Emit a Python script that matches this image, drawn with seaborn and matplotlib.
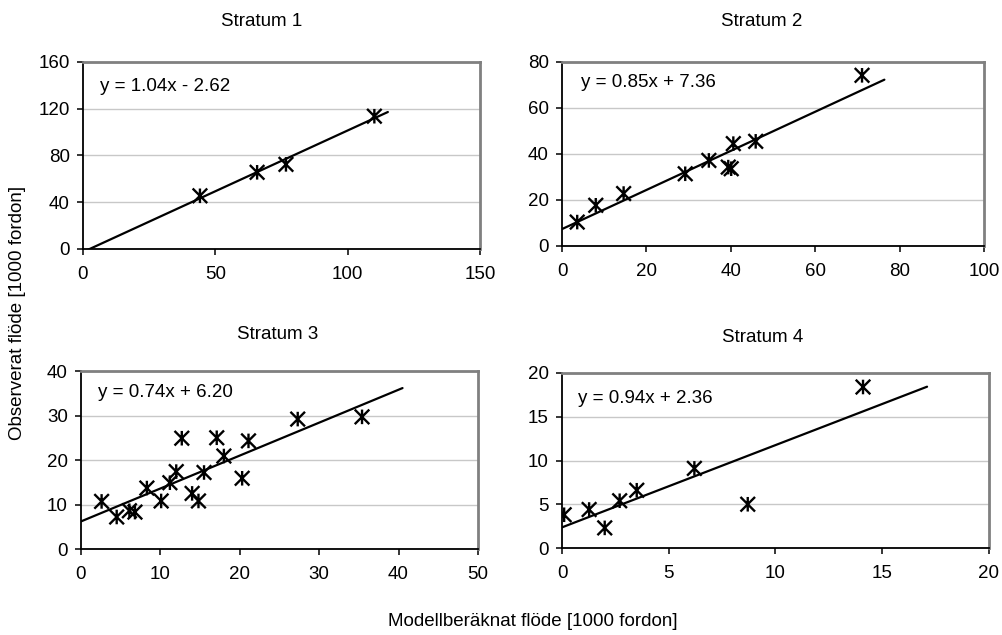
import numpy as np
import pandas as pd
import matplotlib
matplotlib.use("Agg")
import matplotlib.pyplot as plt
from matplotlib.path import Path
import seaborn as sns

s1_x = [44.2, 65.8, 76.7, 110.1]
s1_y = [45.5, 65.6, 72.4, 113.6]

s2_x = [3.6, 8.0, 14.6, 29.2, 34.8, 39.4, 40.1, 40.6, 45.9, 71.1]
s2_y = [10.4, 17.7, 22.8, 31.4, 37.2, 34.3, 33.6, 44.5, 45.5, 74.2]

s3_x = [2.6, 4.5, 6.1, 6.8, 8.3, 10.1, 11.2, 12.0, 12.7, 14.0, 14.8, 15.5,
        17.1, 18.0, 20.3, 21.1, 27.3, 35.4]
s3_y = [10.7, 7.2, 8.6, 8.3, 13.7, 10.8, 14.9, 17.4, 24.9, 12.5, 10.8, 17.2,
        25.0, 20.9, 15.9, 24.3, 29.2, 29.7]

s4_x = [0.1, 1.27, 2.0, 2.7, 3.5, 6.2, 8.7, 14.1]
s4_y = [3.8, 4.4, 2.3, 5.4, 6.6, 9.1, 5.0, 18.4]

titles = ["Stratum 1", "Stratum 2", "Stratum 3", "Stratum 4"]
slopes = [1.04, 0.85, 0.74, 0.94]
intercepts = [-2.62, 7.36, 6.20, 2.36]
equations = ["y = 1.04x - 2.62", "y = 0.85x + 7.36", "y = 0.74x + 6.20", "y = 0.94x + 2.36"]
trend_x_end = [115.2, 76.4, 40.5, 17.1]
x_max = [150, 100, 50, 20]
x_step = [50, 20, 10, 5]
y_max = [160, 80, 40, 20]
y_step = [40, 20, 10, 5]

sns.set_style("white")
plt.rcParams['font.family'] = ['Liberation Sans', 'DejaVu Sans']
plt.rcParams['text.color'] = 'black'
FS = 13.5

# Excel-like star marker: an X with a vertical bar
star = Path([(0, -1), (0, 1), (-1, -1), (1, 1), (-1, 1), (1, -1)],
            [Path.MOVETO, Path.LINETO] * 3)

fig = plt.figure(figsize=(10.02, 6.35), dpi=100)
positions = [
    [0.0828, 0.6079, 0.3962, 0.2945],
    [0.5609, 0.6126, 0.4211, 0.2898],
    [0.0808, 0.1354, 0.3962, 0.2803],
    [0.5609, 0.1370, 0.4261, 0.2756],
]
title_pos = [(262, 22), (762, 22), (278, 335), (763, 338)]
eq_pos = [(0.043, 0.87), (0.045, 0.886), (0.043, 0.882), (0.037, 0.857)]

data = [(s1_x, s1_y), (s2_x, s2_y), (s3_x, s3_y), (s4_x, s4_y)]

for i, (xs, ys) in enumerate(data):
    ax = fig.add_axes(positions[i])
    df = pd.DataFrame({"x": xs, "y": ys})

    # trendline from the equation shown on the chart
    tx = np.array([0.0, trend_x_end[i]])
    line_df = pd.DataFrame({"x": tx, "y": slopes[i] * tx + intercepts[i]})
    sns.lineplot(data=line_df, x="x", y="y", ax=ax, color="black", linewidth=1.6,
                 zorder=3)

    sns.scatterplot(data=df, x="x", y="y", ax=ax, marker=star, s=110,
                    facecolor="none", edgecolor="black", linewidth=1.7, zorder=4)

    ax.set_xlim(0, x_max[i])
    ax.set_ylim(0, y_max[i])
    ax.set_xticks(np.arange(0, x_max[i] + 1, x_step[i]))
    ax.set_yticks(np.arange(0, y_max[i] + 1, y_step[i]))
    ax.set_xlabel("")
    ax.set_ylabel("")

    ax.grid(axis="y", color="#c8c8c8", linewidth=1.0)
    ax.set_axisbelow(True)
    for side in ["top", "right"]:
        ax.spines[side].set_color("#808080")
        ax.spines[side].set_linewidth(2.0)
    for side in ["left", "bottom"]:
        ax.spines[side].set_color("black")
        ax.spines[side].set_linewidth(1.3)

    ax.tick_params(axis="both", direction="out", length=4.5, width=1.1,
                   color="black", labelsize=FS, labelcolor="black")
    ax.tick_params(axis="x", pad=8, bottom=True)
    ax.tick_params(axis="y", pad=5, left=True)

    ax.text(eq_pos[i][0], eq_pos[i][1], equations[i], transform=ax.transAxes,
            fontsize=FS, va="center", ha="left", color="black")

    fig.text(title_pos[i][0] / 1002, 1 - title_pos[i][1] / 635, titles[i],
             ha="center", va="center", fontsize=FS, color="black")

fig.text(18 / 1002, 1 - 313 / 635, "Observerat flöde [1000 fordon]",
         rotation=90, ha="center", va="center", fontsize=FS, color="black")
fig.text(533 / 1002, 1 - 622 / 635, "Modellberäknat flöde [1000 fordon]",
         ha="center", va="center", fontsize=FS, color="black")

fig.savefig("out.png", dpi=100, facecolor="white")
